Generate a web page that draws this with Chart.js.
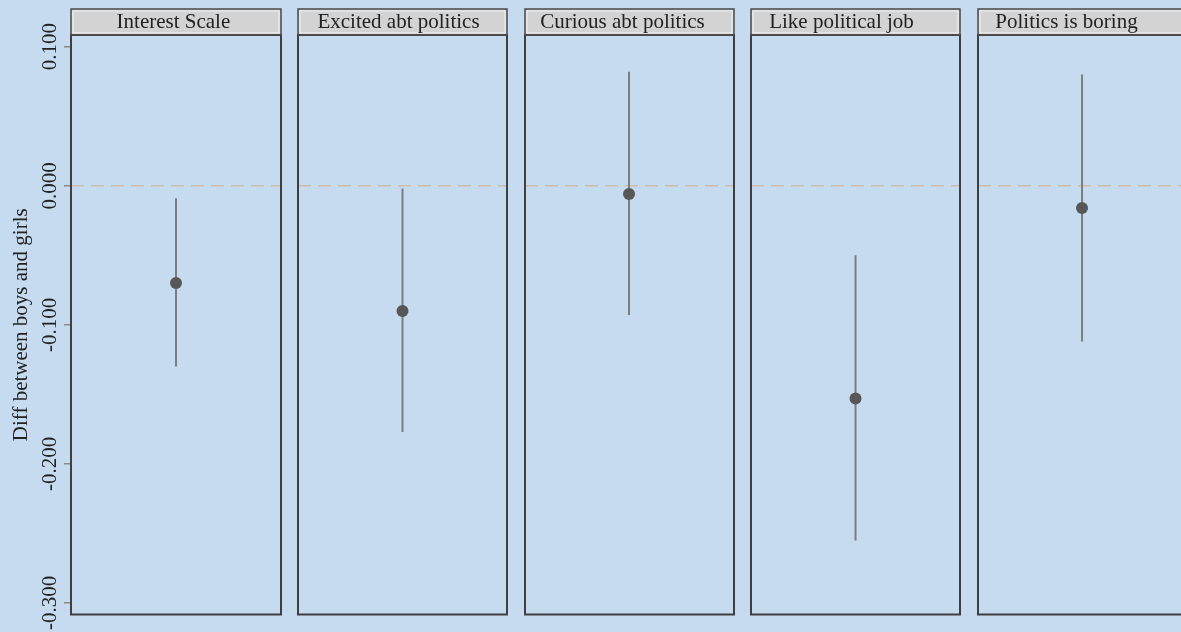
<!DOCTYPE html>
<html>
<head>
<meta charset="utf-8">
<script src="https://cdn.jsdelivr.net/npm/chart.js@4.4.1/dist/chart.umd.min.js"></script>
<style>
  html, body { margin: 0; padding: 0; background: #c6dbef; }
  #wrap { width: 1181px; height: 632px; position: relative; overflow: hidden; }
  canvas { display: block; }
</style>
</head>
<body>
<div id="wrap"><canvas id="chart" width="1181" height="632"></canvas></div>
<script>
// Outcome panels and estimated boy-girl differences with 95% intervals
const panelTitles = ['Interest Scale', 'Excited abt politics', 'Curious abt politics', 'Like political job', 'Politics is boring'];
const estimates = [-0.070, -0.090, -0.006, -0.153, -0.016];
const ciLower = [-0.130, -0.177, -0.093, -0.255, -0.112];
const ciUpper = [-0.009, -0.002, 0.082, -0.050, 0.080];
const yTickValues = [0.1, 0, -0.1, -0.2, -0.3];
const yTickLabels = ['0.100', '0.000', '-0.100', '-0.200', '-0.300'];
const yTitle = 'Diff between boys and girls';

// Layout
const SERIF = "'Liberation Serif', 'Times New Roman', serif";
const PANEL_HALF = 0.4614;      // half panel width in x units
const HEADER_H = 26;            // header strip height in px
const headerShift = [-2.6, -4, -7, -14, -16];

Chart.defaults.font.family = SERIF;

const panelsPlugin = {
  id: 'panels',
  beforeDatasetsDraw(chart) {
    const { ctx, chartArea } = chart;
    const xs = chart.scales.x, ys = chart.scales.y;
    const y0 = ys.getPixelForValue(0);
    ctx.save();
    panelTitles.forEach((title, i) => {
      const xl = Math.round(xs.getPixelForValue(i - PANEL_HALF));
      const xr = Math.round(xs.getPixelForValue(i + PANEL_HALF));
      const top = chartArea.top, bot = chartArea.bottom;

      // zero reference line
      ctx.setLineDash([13, 7]);
      ctx.strokeStyle = '#cbbfac';
      ctx.lineWidth = 1.5;
      ctx.beginPath();
      ctx.moveTo(xl, y0);
      ctx.lineTo(xr, y0);
      ctx.stroke();
      ctx.setLineDash([]);

      // panel frame
      ctx.strokeStyle = '#3f3f3f';
      ctx.lineWidth = 2;
      ctx.strokeRect(xl, top, xr - xl, bot - top);

      // header strip
      const ht = top - HEADER_H;
      ctx.fillStyle = '#d3d3d3';
      ctx.fillRect(xl, ht, xr - xl, HEADER_H);
      ctx.strokeStyle = '#f2f2f2';
      ctx.lineWidth = 1;
      ctx.strokeRect(xl + 2, ht + 2, xr - xl - 4, HEADER_H - 4);
      ctx.strokeStyle = '#4a4a4a';
      ctx.lineWidth = 1.5;
      ctx.strokeRect(xl, ht, xr - xl, HEADER_H);
      ctx.beginPath();
      ctx.lineWidth = 2;
      ctx.moveTo(xl, top);
      ctx.lineTo(xr, top);
      ctx.stroke();

      ctx.fillStyle = '#222222';
      ctx.font = '21px ' + SERIF;
      ctx.textAlign = 'center';
      ctx.textBaseline = 'alphabetic';
      ctx.fillText(title, (xl + xr) / 2 + headerShift[i], ht + 18.5);
    });
    ctx.restore();
  }
};

const pointSet = {
  type: 'scatter',
  data: estimates.map((v, i) => ({ x: i, y: v })),
  pointRadius: 6,
  pointHoverRadius: 6,
  backgroundColor: '#575757',
  borderColor: '#575757',
  borderWidth: 0,
  showLine: false
};

const ciSets = panelTitles.map((t, i) => ({
  type: 'line',
  data: [{ x: i, y: ciLower[i] }, { x: i, y: ciUpper[i] }],
  borderColor: '#7d7d7d',
  borderWidth: 2,
  pointRadius: 0,
  fill: false
}));

new Chart(document.getElementById('chart'), {
  type: 'scatter',
  data: { datasets: [pointSet, ...ciSets] },
  options: {
    responsive: false,
    animation: false,
    devicePixelRatio: 1,
    layout: { autoPadding: false, padding: { top: 35, bottom: 17.5, left: 0, right: 0 } },
    plugins: { legend: { display: false }, tooltip: { enabled: false } },
    scales: {
      x: {
        type: 'linear',
        min: -0.4636,
        max: 4.437,
        display: false
      },
      y: {
        type: 'linear',
        position: 'left',
        min: -0.3083,
        max: 0.1084,
        afterBuildTicks(scale) {
          scale.ticks = yTickValues.map(v => ({ value: v }));
        },
        afterFit(scale) {
          scale.width = 71;
        },
        border: { display: false },
        grid: {
          drawOnChartArea: false,
          drawTicks: true,
          tickLength: 7,
          color: '#8a8a8a',
          lineWidth: 1.5
        },
        ticks: {
          minRotation: 90,
          maxRotation: 90,
          crossAlign: 'center',
          padding: -14,
          color: '#222222',
          font: { size: 21, family: SERIF },
          callback: (value) => yTickLabels[yTickValues.indexOf(value)]
        },
        title: {
          display: true,
          text: yTitle,
          color: '#222222',
          font: { size: 21, family: SERIF },
          padding: { top: 9, bottom: 0 }
        }
      }
    }
  },
  plugins: [panelsPlugin]
});
</script>
</body>
</html>
